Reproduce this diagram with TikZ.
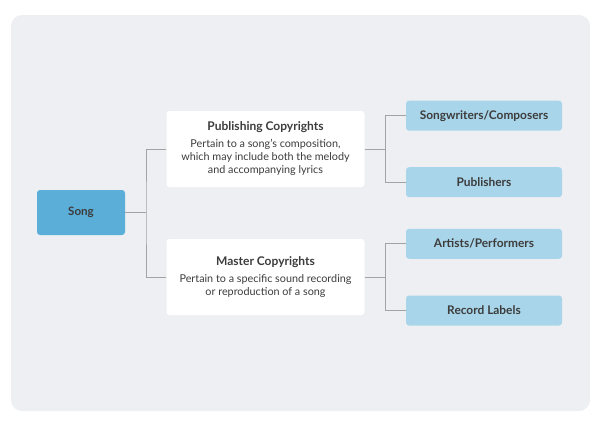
\documentclass[tikz,border=0pt]{standalone}
\usepackage{fontspec}
\setmainfont{Lato}
\usepackage{tikz}
\usetikzlibrary{positioning, calc}

\definecolor{panel}{HTML}{EEEFF3}
\definecolor{songblue}{HTML}{5AAED8}
\definecolor{leafblue}{HTML}{A8D5E9}
\definecolor{ink}{HTML}{3C3C3C}
\definecolor{wire}{HTML}{A3A3A6}

\tikzset{
  box/.style={rounded corners=3pt, align=center, text=ink, inner sep=0pt},
  rootbox/.style={box, fill=songblue, minimum width=88pt, minimum height=45pt, font=\bfseries\fontsize{11.6}{13}\selectfont},
  midbox/.style={box, fill=white, minimum width=198pt, minimum height=76pt, font=\fontsize{10.8}{13}\selectfont},
  leafbox/.style={box, fill=leafblue, minimum width=156pt, minimum height=30pt, font=\bfseries\fontsize{11.9}{13}\selectfont},
  wireline/.style={draw=wire, line width=0.9pt}
}

\begin{document}
\begin{tikzpicture}[x=1pt, y=-1pt]
      \useasboundingbox (0,0) rectangle (600,426);
      \fill[panel, rounded corners=11pt] (11,15) rectangle (590,411);
      % boxes
      \node[rootbox] (song) at (81,212.5) {Song};
      \node[midbox] (pub) at (265.5,149) {{\bfseries\fontsize{12}{13}\selectfont Publishing Copyrights}\\[4pt]
        Pertain to a song's composition,\\ which may include both the melody\\ and accompanying lyrics};
      \node[midbox] (mas) at (265.5,277) {{\bfseries\fontsize{12}{13}\selectfont Master Copyrights}\\[4pt]
        Pertain to a specific sound recording\\ or reproduction of a song};
      \node[leafbox] (sw) at (484,115.7) {Songwriters/Composers};
      \node[leafbox] (pb) at (484,182.2) {Publishers};
      \node[leafbox] (ap) at (484,243.8) {Artists/Performers};
      \node[leafbox] (rl) at (484,310.5) {Record Labels};
      % junctions
      \coordinate (jsong) at (146,212.5);
      \coordinate (jpub) at (385.5,149);
      \coordinate (jmas) at (385.5,277);
      % lines from song
      \draw[wireline] (song.east) -- (jsong);
      \draw[wireline] (pub.west) -| (jsong) |- (mas.west);
      % lines to the right
      \draw[wireline] (pub.east) -- (jpub);
      \draw[wireline] (sw.west) -| (jpub) |- (pb.west);
      \draw[wireline] (mas.east) -- (jmas);
      \draw[wireline] (ap.west) -| (jmas) |- (rl.west);
    \end{tikzpicture}
\end{document}
